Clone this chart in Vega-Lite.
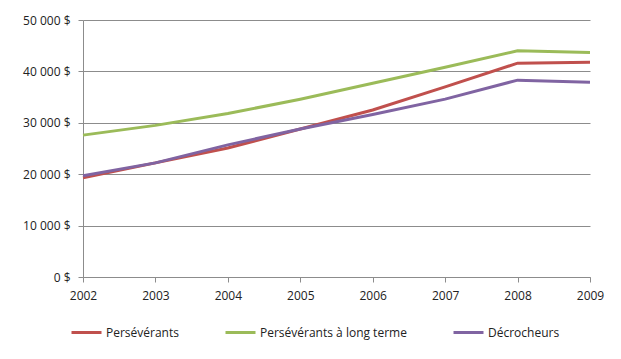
{
  "$schema": "https://vega.github.io/schema/vega-lite/v6.json",
  "autosize": {"type": "none"},
  "width": 507,
  "height": 257,
  "padding": {"left": 83, "top": 20, "right": 31, "bottom": 82},
  "background": "white",
  "config": {
    "view": {"stroke": null},
    "font": "Open Sans",
    "axis": {"labelFont": "Open Sans", "labelFontSize": 12, "labelColor": "#222222"},
    "legend": {"labelFont": "Open Sans", "labelFontSize": 12, "labelColor": "#222222"}
  },
  "data": {
    "values": [
      {"annee": 2002, "groupe": "Persévérants", "revenu": 19300},
      {"annee": 2003, "groupe": "Persévérants", "revenu": 22200},
      {"annee": 2004, "groupe": "Persévérants", "revenu": 25100},
      {"annee": 2005, "groupe": "Persévérants", "revenu": 28800},
      {"annee": 2006, "groupe": "Persévérants", "revenu": 32500},
      {"annee": 2007, "groupe": "Persévérants", "revenu": 37000},
      {"annee": 2008, "groupe": "Persévérants", "revenu": 41600},
      {"annee": 2009, "groupe": "Persévérants", "revenu": 41800},
      {"annee": 2002, "groupe": "Persévérants à long terme", "revenu": 27600},
      {"annee": 2003, "groupe": "Persévérants à long terme", "revenu": 29500},
      {"annee": 2004, "groupe": "Persévérants à long terme", "revenu": 31800},
      {"annee": 2005, "groupe": "Persévérants à long terme", "revenu": 34600},
      {"annee": 2006, "groupe": "Persévérants à long terme", "revenu": 37700},
      {"annee": 2007, "groupe": "Persévérants à long terme", "revenu": 40800},
      {"annee": 2008, "groupe": "Persévérants à long terme", "revenu": 44000},
      {"annee": 2009, "groupe": "Persévérants à long terme", "revenu": 43700},
      {"annee": 2002, "groupe": "Décrocheurs", "revenu": 19700},
      {"annee": 2003, "groupe": "Décrocheurs", "revenu": 22200},
      {"annee": 2004, "groupe": "Décrocheurs", "revenu": 25700},
      {"annee": 2005, "groupe": "Décrocheurs", "revenu": 28800},
      {"annee": 2006, "groupe": "Décrocheurs", "revenu": 31600},
      {"annee": 2007, "groupe": "Décrocheurs", "revenu": 34600},
      {"annee": 2008, "groupe": "Décrocheurs", "revenu": 38300},
      {"annee": 2009, "groupe": "Décrocheurs", "revenu": 37900}
    ]
  },
  "mark": {"type": "line", "strokeWidth": 3},
  "encoding": {
    "x": {
      "field": "annee",
      "type": "quantitative",
      "scale": {"domain": [2002, 2009], "nice": false, "zero": false},
      "axis": {
        "title": null,
        "values": [2002, 2003, 2004, 2005, 2006, 2007, 2008, 2009],
        "format": "d",
        "grid": false,
        "domainColor": "#8c8c8c",
        "tickColor": "#8c8c8c",
        "tickSize": 5,
        "labelPadding": 8,
        "labelFlush": false
      }
    },
    "y": {
      "field": "revenu",
      "type": "quantitative",
      "scale": {"domain": [0, 50000], "nice": false},
      "axis": {
        "title": null,
        "values": [0, 10000, 20000, 30000, 40000, 50000],
        "labelExpr": "replace(format(datum.value, ','), ',', ' ') + ' $'",
        "gridColor": "#8c8c8c",
        "gridWidth": 1,
        "domainColor": "#8c8c8c",
        "tickColor": "#8c8c8c",
        "tickSize": 5,
        "labelPadding": 8
      }
    },
    "color": {
      "field": "groupe",
      "type": "nominal",
      "sort": ["Persévérants", "Persévérants à long terme", "Décrocheurs"],
      "scale": {
        "domain": ["Persévérants", "Persévérants à long terme", "Décrocheurs"],
        "range": ["#C0504D", "#9BBB59", "#8064A2"]
      },
      "legend": {
        "title": null,
        "orient": "none",
        "direction": "horizontal",
        "legendX": -13,
        "legendY": 296,
        "symbolType": "stroke",
        "symbolSize": 900,
        "symbolStrokeWidth": 3,
        "labelOffset": 3,
        "columnPadding": 40,
        "gridAlign": "none"
      }
    }
  }
}
